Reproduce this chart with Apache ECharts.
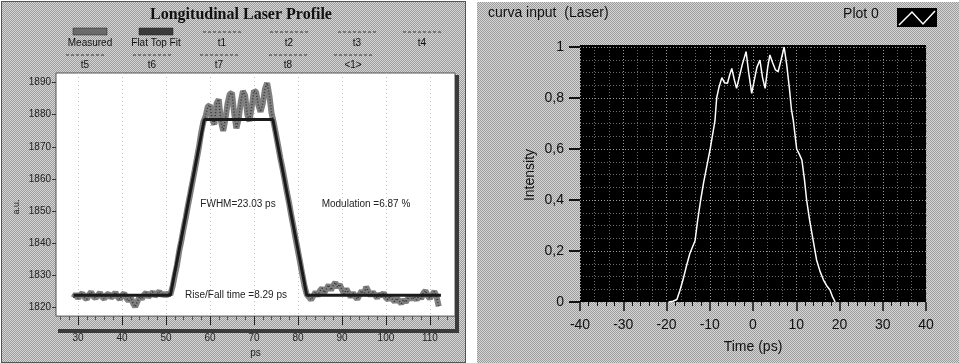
<!DOCTYPE html>
<html>
<head>
<meta charset="utf-8">
<script src="https://cdn.jsdelivr.net/npm/echarts@6/dist/echarts.min.js"></script>
<style>
  html, body { margin: 0; padding: 0; background: #fff; }
  #wrap { position: relative; width: 959px; height: 363px; overflow: hidden; }
  .panel {
    position: absolute;
    background-image: repeating-conic-gradient(#9c9c9c 0% 25%, #d6d6d6 0% 50%);
    background-size: 2px 2px;
  }
  #leftPanel { left: 1px; top: 1px; width: 463px; height: 360px; border: 1px solid #555; }
  #rightPanel { left: 477px; top: 2px; width: 482px; height: 361px; }
  #chart { position: absolute; left: 0; top: 0; width: 959px; height: 363px; }
</style>
</head>
<body>
<div id="wrap">
  <div class="panel" id="leftPanel"></div>
  <div class="panel" id="rightPanel"></div>
  <div id="chart"></div>
</div>
<script>
// ---- Longitudinal laser profile (left) ----
const measuredTime = [
  29, 29.5, 30, 30.5, 31, 31.5, 32, 32.5, 33, 33.5, 34, 34.5, 35, 35.5, 36, 36.5, 37, 37.5, 38, 38.5,
  39, 39.5, 40, 40.5, 41, 41.5, 42, 42.5, 43, 43.5, 44, 44.5, 45, 45.5, 46, 46.5, 47, 47.5, 48, 48.5,
  49, 49.5, 50, 50.5, 51,
  51.5, 52, 52.5, 53, 53.5, 54, 54.5, 55, 55.5, 56, 56.5, 57, 57.5, 58, 58.5,
  59, 59.5, 60, 60.5, 61, 61.5, 62, 62.5, 63, 63.5, 64, 64.5, 65, 65.5, 66, 66.5,
  67, 67.5, 68, 68.5, 69, 69.5, 70, 70.5, 71, 71.5, 72, 72.5, 73, 73.5, 74, 74.5,
  75, 75.5, 76, 76.5, 77, 77.5, 78, 78.5, 79, 79.5, 80, 80.5, 81, 81.5, 82,
  82.5, 83, 83.5, 84, 84.5, 85, 85.5, 86, 86.5, 87, 87.5, 88, 88.5, 89, 89.5, 90, 90.5, 91, 91.5, 92,
  92.5, 93, 93.5, 94, 94.5, 95, 95.5, 96, 96.5, 97, 97.5, 98, 98.5, 99, 99.5, 100, 100.5, 101, 101.5, 102,
  102.5, 103, 103.5, 104, 104.5, 105, 105.5, 106, 106.5, 107, 107.5, 108, 108.5, 109, 109.5, 110, 110.5, 111, 111.5, 112
];
const measuredValue = [
  1823.0, 1824.2, 1822.8, 1823.9, 1824.5, 1823.1, 1822.6, 1824.0, 1824.8, 1823.4, 1822.9, 1823.8, 1824.6, 1823.2, 1822.7, 1823.9, 1824.3, 1823.0, 1823.6, 1824.7,
  1823.3, 1822.5, 1823.8, 1824.4, 1822.9, 1822.0, 1823.1, 1821.4, 1820.2, 1821.8, 1823.4, 1822.6, 1823.9, 1824.6, 1823.2, 1824.1, 1824.8, 1823.5, 1824.3, 1825.0,
  1823.7, 1824.4, 1823.6, 1824.5, 1824.0,
  1826.5, 1830.0, 1833.2, 1837.5, 1840.8, 1844.6, 1848.0, 1851.8, 1855.3, 1858.9, 1862.5, 1866.2, 1870.0, 1874.4, 1877.8,
  1879.5, 1882.5, 1883.0, 1878.5, 1877.0, 1883.5, 1884.8, 1878.0, 1875.0, 1878.5, 1883.5, 1886.5, 1886.8, 1880.5, 1875.8, 1878.5,
  1884.0, 1887.4, 1886.0, 1880.0, 1878.0, 1882.5, 1887.5, 1887.0, 1883.0, 1880.9, 1883.5, 1888.0, 1889.9, 1886.0, 1880.5, 1877.5,
  1874.0, 1870.3, 1866.5, 1863.2, 1859.6, 1855.8, 1852.4, 1848.5, 1845.0, 1841.2, 1837.6, 1834.0, 1830.2, 1826.6, 1824.0,
  1823.2, 1822.4, 1823.6, 1824.8, 1823.5, 1825.2, 1826.0, 1824.6, 1825.8, 1827.0, 1825.4, 1826.8, 1827.8, 1826.2, 1827.2, 1825.6, 1824.2, 1825.8, 1824.5, 1823.2,
  1824.6, 1823.4, 1822.6, 1824.0, 1825.2, 1823.8, 1826.4, 1825.0, 1823.6, 1824.8, 1823.9, 1822.9, 1824.2, 1823.5, 1824.6, 1823.0, 1822.4, 1823.6, 1822.5, 1821.8,
  1822.9, 1822.0, 1821.2, 1822.4, 1821.6, 1822.8, 1823.6, 1822.5, 1823.4, 1822.3, 1823.8, 1822.7, 1824.4, 1825.2, 1823.6, 1822.8, 1824.0, 1825.0, 1823.4, 1820.3
];
// Flat-top (trapezoid) fit
const fitTime = [29, 51, 58.7, 74.3, 82, 112.5];
const fitValue = [1823.8, 1823.8, 1878.5, 1878.5, 1823.8, 1823.8];

const leftXTicks = [30, 40, 50, 60, 70, 80, 90, 100, 110];
const leftXMinor = [26, 28, 32, 34, 36, 38, 42, 44, 46, 48, 52, 54, 56, 58, 62, 64, 66, 68, 72, 74, 76, 78,
  82, 84, 86, 88, 92, 94, 96, 98, 102, 104, 106, 108, 112, 114];
const leftYTicks = [1820, 1830, 1840, 1850, 1860, 1870, 1880, 1890];

const legendRow1 = ['Measured', 'Flat Top Fit', 't1', 't2', 't3', 't4'];
const legendRow2 = ['t5', 't6', 't7', 't8', '<1>'];

const fwhmText = 'FWHM=23.03 ps';
const modulationText = 'Modulation =6.87 %';
const riseFallText = 'Rise/Fall time =8.29 ps';

// ---- curva input (Laser) (right) ----
const rightTime = [-19.5, -18.5, -17.6, -16.9, -16.2, -15.4, -14.6, -13.4, -12.8, -12.1, -11.4, -10.6, -9.9, -9.3,
  -8.8, -8.4, -7.9, -7.2, -6.6, -5.9, -5.4, -4.9, -4.3, -3.8, -3.2, -2.5, -1.6, -1.0, -0.3, 0.3, 0.9, 1.6, 2.2,
  2.8, 3.4, 3.9, 4.5, 5.2, 5.8, 6.5, 7.2, 7.8, 8.4, 8.9, 9.3, 10.1, 10.7, 11.3, 11.9, 12.4, 13.1, 13.9, 14.7,
  15.5, 16.3, 17.0, 17.8, 18.4, 19.0];
const rightIntensity = [0, 0.003, 0.01, 0.045, 0.086, 0.14, 0.19, 0.24, 0.32, 0.40, 0.47, 0.54, 0.60, 0.66,
  0.71, 0.80, 0.84, 0.88, 0.86, 0.858, 0.89, 0.916, 0.87, 0.838, 0.88, 0.93, 0.982, 0.90, 0.818, 0.87, 0.92, 0.949, 0.88,
  0.838, 0.92, 0.969, 0.94, 0.91, 0.903, 0.95, 1.0, 0.93, 0.84, 0.753, 0.714, 0.60, 0.58, 0.557, 0.48, 0.40, 0.32, 0.243, 0.165,
  0.12, 0.086, 0.065, 0.047, 0.02, 0];
const rightXTickStep = 10;
const rightYTickStep = 0.2;

const zip = (xs, ys) => xs.map((x, i) => [x, ys[i]]);

const sans = 'Liberation Sans, Arial, sans-serif';
const chart = echarts.init(document.getElementById('chart'), null, { renderer: 'canvas' });

// legend blocks: symbol above its label
const legendGraphics = [];
const row1X = [90, 156, 222, 289, 357, 422];
const row2X = [85, 152, 219, 288, 353];
legendRow1.forEach((name, i) => {
  const cx = row1X[i];
  if (i < 2) {
    legendGraphics.push({ type: 'rect', shape: { x: cx - 17, y: 28, width: 34, height: 7 },
      style: { fill: i === 0 ? '#6a6a6a' : '#3a3a3a', stroke: '#222', lineWidth: 0.5 } });
  } else {
    legendGraphics.push({ type: 'line', shape: { x1: cx - 19, y1: 32, x2: cx + 19, y2: 32 },
      style: { stroke: '#777', lineWidth: 2, lineDash: [3, 2] } });
  }
  legendGraphics.push({ type: 'text', x: cx, y: 43, style: { text: name, fill: '#111', font: '10px ' + sans,
    align: 'center', verticalAlign: 'middle' } });
});
legendRow2.forEach((name, i) => {
  const cx = row2X[i];
  legendGraphics.push({ type: 'line', shape: { x1: cx - 19, y1: 55, x2: cx + 19, y2: 55 },
    style: { stroke: '#777', lineWidth: 2, lineDash: [3, 2] } });
  legendGraphics.push({ type: 'text', x: cx, y: 65, style: { text: name, fill: '#111', font: '10px ' + sans,
    align: 'center', verticalAlign: 'middle' } });
});

const option = {
  animation: false,
  backgroundColor: 'transparent',
  grid: [
    { left: 56, top: 73, width: 399, height: 250, show: true, backgroundColor: '#ffffff', borderColor: '#555', borderWidth: 1 },
    { left: 580, top: 47, width: 346, height: 255, show: true, backgroundColor: '#000000', borderWidth: 0 }
  ],
  xAxis: [
    { gridIndex: 0, type: 'value', min: 25, max: 115.7, position: 'bottom',
      axisLine: { show: false },
      axisTick: { show: true, customValues: leftXTicks, length: 9, lineStyle: { color: '#222' } },
      axisLabel: { customValues: leftXTicks, margin: 17, fontSize: 10, fontFamily: sans, color: '#222' },
      splitLine: { show: true, lineStyle: { color: '#c4c4c4', type: [1, 3], width: 1 } },
      name: 'ps', nameLocation: 'middle', nameGap: 29, nameTextStyle: { fontSize: 10, fontFamily: sans, color: '#222' } },
    { gridIndex: 0, type: 'value', min: 25, max: 115.7, position: 'bottom',
      axisLine: { show: false },
      axisTick: { show: true, customValues: leftXMinor, length: 4, lineStyle: { color: '#555' } },
      axisLabel: { show: false }, splitLine: { show: false } },
    { gridIndex: 1, type: 'value', min: -40, max: 40, interval: rightXTickStep, position: 'bottom',
      axisLine: { show: true, onZero: false, lineStyle: { color: 'rgba(0,0,0,0)' } },
      axisTick: { show: true, inside: false, length: 9, lineStyle: { color: '#111', width: 1.5 } },
      minorTick: { show: true, splitNumber: 5, length: 4, lineStyle: { color: '#111' } },
      axisLabel: { margin: 16, fontSize: 14, fontFamily: sans, color: '#111' },
      splitLine: { show: true, lineStyle: { color: '#9a9a9a', type: [1, 2], width: 1 } },
      name: 'Time (ps)', nameLocation: 'middle', nameGap: 38,
      nameTextStyle: { fontSize: 14, fontFamily: sans, color: '#111' } },
    // minor grid of the black plot (three divisions per major)
    { gridIndex: 1, type: 'value', min: -40, max: 40, interval: rightXTickStep, position: 'top',
      axisLine: { show: false, onZero: false }, axisTick: { show: false }, axisLabel: { show: false },
      splitLine: { show: false },
      minorTick: { show: false, splitNumber: 3 },
      minorSplitLine: { show: true, lineStyle: { color: '#6a6a6a', type: [1, 2], width: 1 } } }
  ],
  yAxis: [
    { gridIndex: 0, type: 'value', min: 1817.3, max: 1893,
      axisLine: { show: false },
      axisTick: { show: true, customValues: leftYTicks, length: 4, lineStyle: { color: '#333' } },
      axisLabel: { customValues: leftYTicks, margin: 5, fontSize: 10, fontFamily: sans, color: '#222',
        formatter: v => String(v) },
      splitLine: { show: false } },
    { gridIndex: 1, type: 'value', min: 0, max: 1, interval: rightYTickStep, position: 'left',
      axisLine: { show: true, onZero: false, lineStyle: { color: 'rgba(0,0,0,0)' } },
      axisTick: { show: true, inside: false, length: 11, lineStyle: { color: '#111', width: 2 } },
      axisLabel: { margin: 16, fontSize: 14, fontFamily: sans, color: '#111',
        formatter: v => String(Math.round(v * 10) / 10).replace('.', ',') },
      splitLine: { show: true, lineStyle: { color: '#9a9a9a', type: [1, 2], width: 1 } },
      minorTick: { show: false, splitNumber: 4 },
      minorSplitLine: { show: true, lineStyle: { color: '#6a6a6a', type: [1, 2], width: 1 } } }
  ],
  graphic: [
    { type: 'text', x: 241, y: 15, style: { text: 'Longitudinal Laser Profile', fill: '#111',
      font: 'bold 16px Liberation Serif, serif', align: 'center', verticalAlign: 'middle' } },
    ...legendGraphics,
    { type: 'text', x: 17, y: 207, rotation: Math.PI / 2, style: { text: 'a.u.', fill: '#222',
      font: '9px ' + sans, align: 'center', verticalAlign: 'middle' } },
    { type: 'text', x: 238, y: 204, style: { text: fwhmText, fill: '#222', font: '10px ' + sans,
      align: 'center', verticalAlign: 'middle' } },
    { type: 'text', x: 366, y: 204, style: { text: modulationText, fill: '#222', font: '10px ' + sans,
      align: 'center', verticalAlign: 'middle' } },
    { type: 'text', x: 236, y: 295, style: { text: riseFallText, fill: '#222', font: '10px ' + sans,
      align: 'center', verticalAlign: 'middle' } },
    // 3D shadow of the left plot frame
    { type: 'rect', shape: { x: 455, y: 75, width: 4, height: 258 }, style: { fill: '#3a3a3a' } },
    { type: 'rect', shape: { x: 58, y: 329, width: 401, height: 4 }, style: { fill: '#3a3a3a' } },
    // top strip of the black plot above the full-scale line
    { type: 'rect', shape: { x: 580, y: 45, width: 346, height: 2 }, style: { fill: '#000' } },
    // right panel header
    { type: 'text', x: 488, y: 13, style: { text: 'curva input  (Laser)', fill: '#111', font: '14px ' + sans,
      align: 'left', verticalAlign: 'middle' } },
    { type: 'text', x: 861, y: 14, style: { text: 'Plot 0', fill: '#111', font: '14px ' + sans,
      align: 'center', verticalAlign: 'middle' } },
    { type: 'rect', shape: { x: 897, y: 8, width: 40, height: 19 }, style: { fill: '#000' } },
    { type: 'polyline', shape: { points: [[899, 25], [912, 12], [923, 24], [935, 11]] },
      style: { stroke: '#fff', lineWidth: 1.5, fill: null } },
    { type: 'text', x: 530, y: 175, rotation: Math.PI / 2, style: { text: 'Intensity', fill: '#111',
      font: '14px ' + sans, align: 'center', verticalAlign: 'middle' } }
  ],
  series: [
    { type: 'line', xAxisIndex: 0, yAxisIndex: 0, data: zip(measuredTime, measuredValue), showSymbol: false,
      lineStyle: { color: '#808080', width: 6 }, z: 2 },
    { type: 'line', xAxisIndex: 0, yAxisIndex: 0, data: zip(measuredTime, measuredValue), showSymbol: false,
      lineStyle: { color: '#333', width: 1.5, type: [1, 2] }, z: 3 },
    { type: 'line', xAxisIndex: 0, yAxisIndex: 0, data: zip(fitTime, fitValue), showSymbol: false,
      lineStyle: { color: '#1a1a1a', width: 3 }, z: 4 },
    { type: 'line', xAxisIndex: 2, yAxisIndex: 1, data: zip(rightTime, rightIntensity), showSymbol: false,
      lineStyle: { color: '#ffffff', width: 1.5 }, z: 4 }
  ]
};

chart.setOption(option);
</script>
</body>
</html>
